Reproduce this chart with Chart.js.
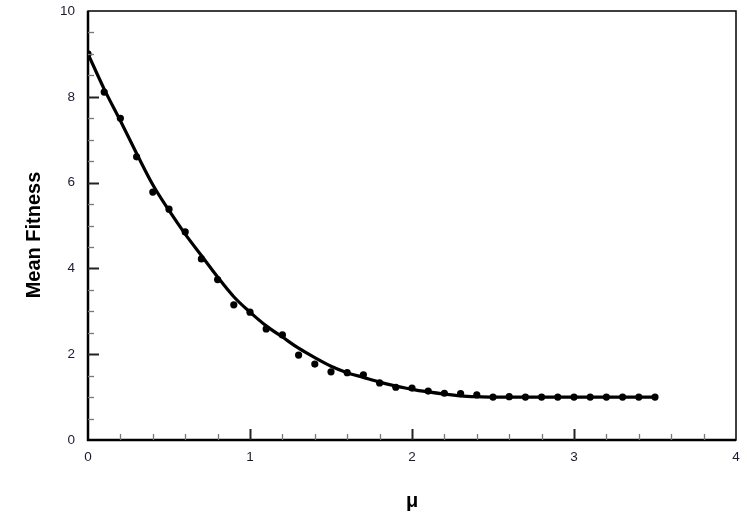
<!DOCTYPE html>
<html>
<head>
<meta charset="utf-8">
<script src="https://cdn.jsdelivr.net/npm/chart.js@4/dist/chart.umd.min.js"></script>
<style>
  html, body { margin: 0; padding: 0; background: #fff; }
  #wrap { width: 747px; height: 528px; position: relative; }
</style>
</head>
<body>
<div id="wrap"><canvas id="chart"></canvas></div>
<script>
  // ----- Data -----
  const MU = [0, 0.1, 0.2, 0.3, 0.4, 0.5, 0.6, 0.7, 0.8, 0.9, 1.0, 1.1, 1.2, 1.3, 1.4, 1.5, 1.6, 1.7,
    1.8, 1.9, 2.0, 2.1, 2.2, 2.3, 2.4, 2.5, 2.6, 2.7, 2.8, 2.9, 3.0, 3.1, 3.2, 3.3, 3.4, 3.5];
  const FITNESS_POINTS = [9.0, 8.11, 7.5, 6.6, 5.78, 5.38, 4.85, 4.22, 3.74, 3.15, 2.98, 2.59, 2.45,
    1.98, 1.77, 1.59, 1.57, 1.52, 1.33, 1.23, 1.21, 1.14, 1.09, 1.08, 1.05, 1.0, 1.01, 1.0, 1.0,
    1.0, 1.0, 1.0, 1.0, 1.0, 1.0, 1.0];
  const FITNESS_CURVE = [9.0, 8.18, 7.44, 6.68, 5.95, 5.35, 4.8, 4.3, 3.8, 3.34, 2.98, 2.66, 2.4,
    2.14, 1.92, 1.72, 1.57, 1.46, 1.35, 1.26, 1.18, 1.12, 1.07, 1.03, 1.01, 1.0, 1.0, 1.0, 1.0,
    1.0, 1.0, 1.0, 1.0, 1.0, 1.0, 1.0];
  const X_TICKS = [0, 1, 2, 3, 4];
  const Y_TICKS = [0, 2, 4, 6, 8, 10];
  const Y_TITLE = "Mean Fitness";
  const X_TITLE = "μ";

  const FONT = "'Liberation Sans', Arial, Helvetica, sans-serif";
  const LABEL_COLOR = "#1b1b2f";

  // inward tick marks, box frame and the y title
  const frameTicks = {
    id: "frameTicks",
    afterDraw(chart) {
      const { ctx, chartArea: a, scales: { x, y } } = chart;
      ctx.save();
      ctx.strokeStyle = "#000";
      ctx.lineWidth = 1.5;
      ctx.strokeRect(a.left, a.top, a.right - a.left, a.bottom - a.top);
      ctx.lineWidth = 2.5;
      ctx.beginPath();
      ctx.moveTo(a.left, a.top);
      ctx.lineTo(a.left, a.bottom);
      ctx.lineTo(a.right, a.bottom);
      ctx.stroke();

      // x ticks: minor every 0.2, major on integers
      for (let i = 1; i < 20; i++) {
        const v = i * 0.2;
        const major = i % 5 === 0;
        const px = Math.round(x.getPixelForValue(v)) + 0.5;
        ctx.strokeStyle = major ? "#222" : "#777";
        ctx.lineWidth = major ? 2 : 1.3;
        ctx.beginPath();
        ctx.moveTo(px, a.bottom);
        ctx.lineTo(px, a.bottom - (major ? 11 : 6));
        ctx.stroke();
      }
      // y ticks: minor every 0.5, major every 2
      for (let i = 1; i < 20; i++) {
        const v = i * 0.5;
        const major = i % 4 === 0;
        const py = Math.round(y.getPixelForValue(v)) + 0.5;
        ctx.strokeStyle = major ? "#222" : "#777";
        ctx.lineWidth = major ? 2 : 1.3;
        ctx.beginPath();
        ctx.moveTo(a.left, py);
        ctx.lineTo(a.left + (major ? 11 : 6), py);
        ctx.stroke();
      }

      // y axis title sits a little below the plot's middle in the original
      ctx.translate(34, 235);
      ctx.rotate(-Math.PI / 2);
      ctx.fillStyle = "#000";
      ctx.font = "bold 20px " + FONT;
      ctx.textAlign = "center";
      ctx.textBaseline = "middle";
      ctx.fillText(Y_TITLE, 0, 0);
      ctx.restore();
    },
  };

  new Chart(document.getElementById("chart"), {
    type: "scatter",
    data: {
      datasets: [
        {
          label: "fit",
          data: MU.map((m, i) => ({ x: m, y: FITNESS_CURVE[i] })),
          showLine: true,
          borderColor: "#000",
          borderWidth: 3.2,
          pointRadius: 0,
          cubicInterpolationMode: "monotone",
          order: 2,
        },
        {
          label: "points",
          data: MU.map((m, i) => ({ x: m, y: FITNESS_POINTS[i] })),
          backgroundColor: "#000",
          borderColor: "#000",
          pointRadius: 3.6,
          pointBorderWidth: 0,
          order: 1,
        },
      ],
    },
    options: {
      responsive: true,
      maintainAspectRatio: false,
      animation: false,
      layout: { padding: { top: 11, right: 11, left: 0, bottom: 0 } },
      plugins: { legend: { display: false }, tooltip: { enabled: false } },
      scales: {
        x: {
          type: "linear",
          min: 0,
          max: 4,
          afterBuildTicks: (s) => { s.ticks = X_TICKS.map((v) => ({ value: v })); },
          afterFit: (s) => { s.height = 88; s.paddingLeft = 0; s.paddingRight = 0; },
          grid: { display: false },
          border: { display: false },
          ticks: { color: LABEL_COLOR, font: { family: FONT, size: 13.5 }, padding: 1 },
          title: {
            display: true,
            text: X_TITLE,
            color: "#000",
            font: { family: FONT, size: 20, weight: "bold" },
            padding: { top: 0, bottom: 15 },
          },
        },
        y: {
          type: "linear",
          min: 0,
          max: 10,
          afterBuildTicks: (s) => { s.ticks = Y_TICKS.map((v) => ({ value: v })); },
          afterFit: (s) => { s.width = 88; s.paddingTop = 0; s.paddingBottom = 0; },
          grid: { display: false },
          border: { display: false },
          ticks: { color: LABEL_COLOR, font: { family: FONT, size: 13.5 }, padding: 5 },
          title: { display: false },
        },
      },
    },
    plugins: [frameTicks],
  });
</script>
</body>
</html>
